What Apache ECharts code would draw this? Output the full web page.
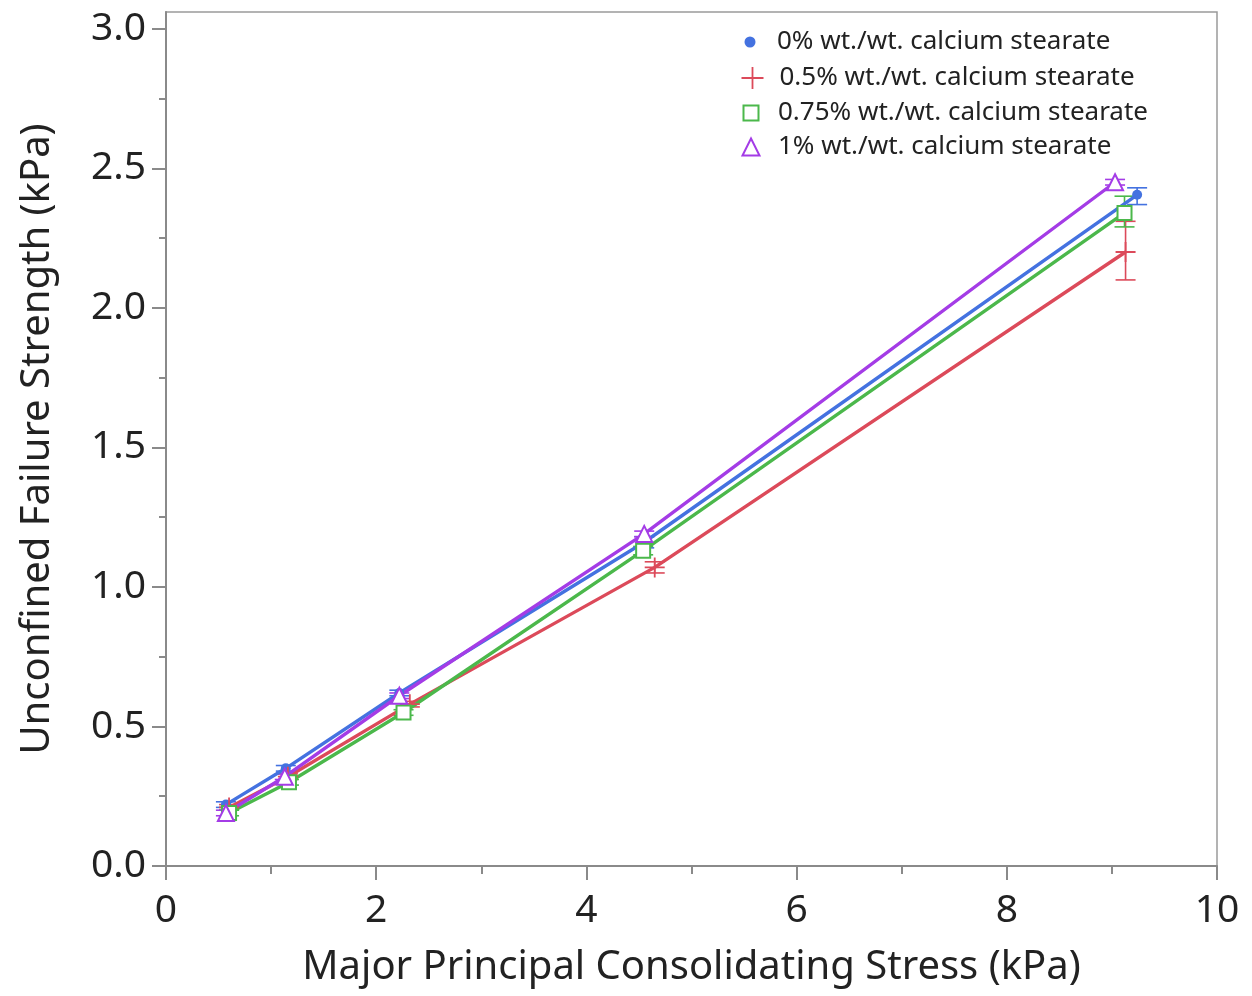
<!DOCTYPE html>
<html>
<head>
<meta charset="utf-8">
<script src="https://cdn.jsdelivr.net/npm/echarts@6/dist/echarts.min.js"></script>
<style>
  html, body { margin: 0; padding: 0; background: #fff; }
  #chart { width: 1252px; height: 996px; }
</style>
</head>
<body>
<div id="chart"></div>
<script>
// Series names
const seriesNames = [
  '0% wt./wt. calcium stearate',
  '0.5% wt./wt. calcium stearate',
  '0.75% wt./wt. calcium stearate',
  '1% wt./wt. calcium stearate'
];

// Each row: [consolidating stress, mean failure strength, lower bar, upper bar]
const blueData = [
  [0.57, 0.22, 0.21, 0.23],
  [1.14, 0.35, 0.34, 0.36],
  [2.22, 0.62, 0.61, 0.63],
  [4.55, 1.16, 1.14, 1.18],
  [9.24, 2.405, 2.37, 2.43]
];
const redData = [
  [0.60, 0.21, 0.20, 0.22],
  [1.16, 0.32, 0.31, 0.33],
  [2.32, 0.58, 0.57, 0.59],
  [4.65, 1.07, 1.05, 1.09],
  [9.13, 2.20, 2.10, 2.31]
];
const greenData = [
  [0.60, 0.19, 0.18, 0.20],
  [1.17, 0.30, 0.29, 0.31],
  [2.26, 0.55, 0.54, 0.56],
  [4.54, 1.13, 1.115, 1.145],
  [9.12, 2.34, 2.29, 2.40]
];
const purpleData = [
  [0.57, 0.19, 0.18, 0.20],
  [1.13, 0.32, 0.31, 0.33],
  [2.22, 0.61, 0.60, 0.62],
  [4.55, 1.19, 1.18, 1.20],
  [9.03, 2.45, 2.44, 2.46]
];

// Axis ticks
const xTicks = [0, 2, 4, 6, 8, 10];
const yMajorTicks = [0, 0.5, 1.0, 1.5, 2.0, 2.5, 3.0];
const yMinorTicks = [0.25, 0.75, 1.25, 1.75, 2.25, 2.75];

const colors = ['#4472e0', '#dc4a5a', '#4bb84b', '#a43ce6'];
const groups = [blueData, redData, greenData, purpleData];

const plusPath = 'path://M0,-10L0,10M-10,0L10,0';
const markers = [
  { symbol: 'circle', size: 10, itemStyle: { color: colors[0] } },
  { symbol: plusPath, size: 20, itemStyle: { color: 'none', borderColor: colors[1], borderWidth: 1.8 } },
  { symbol: 'rect', size: 14, itemStyle: { color: '#fff', borderColor: colors[2], borderWidth: 2 } },
  { symbol: 'triangle', size: 16, itemStyle: { color: '#fff', borderColor: colors[3], borderWidth: 2 } }
];
const legendIconSizes = [11, 22, 15, 17];
const legendRows = [42, 78, 113, 147];
const legendIconCenter = 750;
const legendTextStart = 777;

const FONT = '"Noto Sans", "Open Sans", sans-serif';
const axisGray = '#8a8a8a';

function errorBars(color, data, capHalf) {
  return {
    type: 'custom',
    data: data,
    encode: { x: 0, y: [2, 3] },
    silent: true,
    z: 3,
    renderItem: function (params, api) {
      const x = api.value(0);
      const top = api.coord([x, api.value(3)]);
      const bot = api.coord([x, api.value(2)]);
      const st = { stroke: color, lineWidth: 1.6 };
      return {
        type: 'group',
        children: [
          { type: 'line', shape: { x1: top[0], y1: top[1], x2: bot[0], y2: bot[1] }, style: st },
          { type: 'line', shape: { x1: top[0] - capHalf, y1: top[1], x2: top[0] + capHalf, y2: top[1] }, style: st },
          { type: 'line', shape: { x1: bot[0] - capHalf, y1: bot[1], x2: bot[0] + capHalf, y2: bot[1] }, style: st }
        ]
      };
    }
  };
}

const series = [];
groups.forEach(function (g, i) {
  series.push(errorBars(colors[i], g, 10));
});
groups.forEach(function (g, i) {
  series.push({
    name: seriesNames[i],
    type: 'line',
    data: g.map(function (r) { return [r[0], r[1]]; }),
    symbol: markers[i].symbol,
    symbolSize: markers[i].size,
    showAllSymbol: true,
    itemStyle: markers[i].itemStyle,
    lineStyle: { color: colors[i], width: 3.4 },
    z: 4,
    animation: false
  });
});

// One legend block per entry so each marker keeps its own size
const legends = seriesNames.map(function (name, i) {
  const s = legendIconSizes[i];
  return {
    orient: 'vertical',
    left: legendIconCenter - s / 2,
    top: legendRows[i] - 15,
    padding: 0,
    itemWidth: s,
    itemHeight: s,
    selectedMode: false,
    textStyle: {
      fontFamily: FONT, fontSize: 26, color: '#222', lineHeight: 30,
      padding: [0, 0, 0, legendTextStart - (legendIconCenter + s / 2 + 5)]
    },
    data: [{ name: name, icon: markers[i].symbol, itemStyle: markers[i].itemStyle }]
  };
});

const chart = echarts.init(document.getElementById('chart'), null, { renderer: 'canvas' });
chart.setOption({
  backgroundColor: '#fff',
  animation: false,
  legend: legends,
  grid: {
    left: 166, right: 35, top: 12, bottom: 130,
    show: true, borderColor: '#9a9a9a', borderWidth: 1.5, backgroundColor: 'transparent'
  },
  xAxis: {
    type: 'value',
    min: xTicks[0], max: xTicks[xTicks.length - 1], interval: 2,
    name: 'Major Principal Consolidating Stress (kPa)',
    nameLocation: 'middle', nameGap: 82,
    nameTextStyle: { fontFamily: FONT, fontSize: 40, color: '#222' },
    axisLine: { show: true, lineStyle: { color: axisGray, width: 2 } },
    axisTick: { show: true, length: 14, lineStyle: { color: axisGray, width: 2 } },
    minorTick: { show: true, splitNumber: 2, length: 8, lineStyle: { color: axisGray, width: 2 } },
    axisLabel: { fontFamily: FONT, fontSize: 39, color: '#222', margin: 25 },
    splitLine: { show: false }
  },
  yAxis: [{
    type: 'value',
    position: 'left',
    min: 0, max: 3.06,
    name: 'Unconfined Failure Strength (kPa)',
    nameLocation: 'middle', nameGap: 108,
    nameTextStyle: { fontFamily: FONT, fontSize: 40, color: '#222' },
    axisLine: { show: true, lineStyle: { color: axisGray, width: 2 } },
    axisTick: { show: true, length: 14, customValues: yMajorTicks, lineStyle: { color: axisGray, width: 2 } },
    axisLabel: {
      fontFamily: FONT, fontSize: 39, color: '#222', margin: 20,
      customValues: yMajorTicks,
      formatter: function (v) { return v.toFixed(1); }
    },
    splitLine: { show: false }
  }, {
    type: 'value',
    position: 'left',
    offset: 0,
    min: 0, max: 3.06,
    axisLine: { show: false },
    axisTick: { show: true, length: 7, customValues: yMinorTicks, lineStyle: { color: axisGray, width: 2 } },
    axisLabel: { show: false },
    splitLine: { show: false }
  }],
  series: series
});
</script>
</body>
</html>
